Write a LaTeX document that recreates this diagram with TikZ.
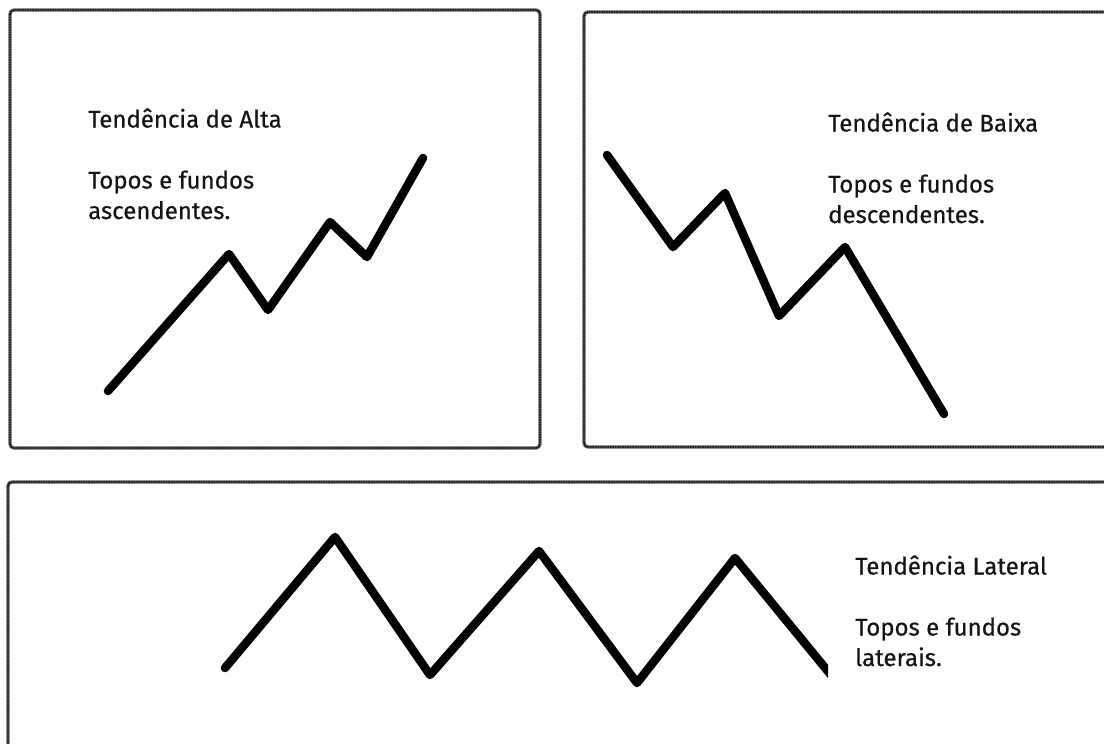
\documentclass[tikz,border=0pt]{standalone}
\usepackage{fontspec}
\setmainfont[FakeBold=0.5]{Fira Sans}
\usepackage{xcolor}
\usetikzlibrary{positioning}
\definecolor{FrameGray}{HTML}{5A5A5A}
\definecolor{InkBlack}{HTML}{000000}
\definecolor{TextInk}{HTML}{141414}
\tikzset{
  panel/.style={draw=FrameGray, line width=3.2pt, rounded corners=4pt},
  panelgrain/.style={draw=black, line width=1.2pt, dash pattern=on 1.5pt off 1pt, rounded corners=4pt},
  trendline/.style={draw=InkBlack, line width=8.5pt, line cap=round, line join=round},
  caption/.style={align=left, anchor=base west, inner sep=0pt, text=TextInk, font=\fontsize{24}{30.5}\selectfont}
}

\begin{document}
\begin{tikzpicture}[x=1pt, y=-1pt]
    \clip (0,0) rectangle (1104,744);
    \fill[white] (0,0) rectangle (1104,744);

    % frames
    \draw[panel] (10,10) rectangle (540,448);
    \draw[panelgrain] (10,10) rectangle (540,448);
    \draw[panel] (584,12) rectangle (1112,447);
    \draw[panelgrain] (584,12) rectangle (1112,447);
    \draw[panel] (8,482) rectangle (1112,760);
    \draw[panelgrain] (8,482) rectangle (1112,760);

    % captions (base = last line)
    \node[caption] (alta) at (88,219) {Tendência de Alta\\[30.5pt]Topos e fundos\\ascendentes.};
    \node[caption] (baixa) at (828,223) {Tendência de Baixa\\[30.5pt]Topos e fundos\\descendentes.};
    \node[caption] (lateral) at (855,666) {Tendência Lateral\\[30.5pt]Topos e fundos\\laterais.};

    % trends
    \draw[trendline] (108,391) -- (229,254) -- (268,310) -- (330,222) -- (367,257) -- (423,158);
    \draw[trendline] (607,155) -- (673,247) -- (725,193) -- (779,316) -- (845,247) -- (944,414);
    \begin{scope}
      \clip (0,482) rectangle (828,744);
      \draw[trendline] (225,668) -- (335,537) -- (430,675) -- (539,551) -- (637,683) -- (735,558) -- (840,686);
    \end{scope}
  \end{tikzpicture}
\end{document}
